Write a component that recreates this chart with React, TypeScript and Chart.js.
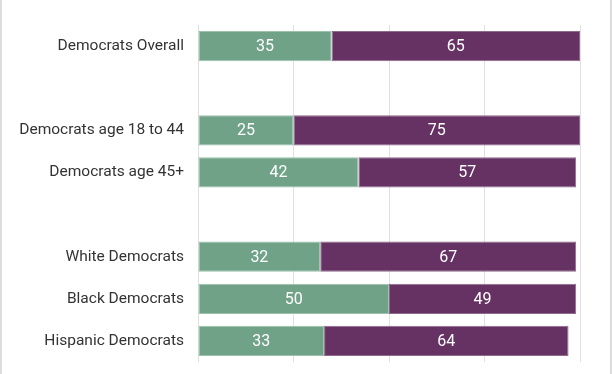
import React, { useEffect, useRef } from "react";
import { Chart, registerables } from "chart.js";

Chart.register(...registerables);

const categories = [
  "Democrats Overall",
  "",
  "Democrats age 18 to 44",
  "Democrats age 45+",
  "",
  "White Democrats",
  "Black Democrats",
  "Hispanic Democrats",
];
const greenValues = [35, null, 25, 42, null, 32, 50, 33];
const purpleValues = [65, null, 75, 57, null, 67, 49, 64];
const xTicks = [0, 25, 50, 75, 100];

const labelPlugin = {
  id: "barLabels",
  afterDatasetsDraw(chart: any) {
    const ctx = chart.ctx;
    ctx.save();
    ctx.fillStyle = "#ffffff";
    ctx.font = "16px Roboto";
    ctx.textAlign = "center";
    ctx.textBaseline = "middle";
    chart.data.datasets.forEach((ds: any, di: number) => {
      const meta = chart.getDatasetMeta(di);
      meta.data.forEach((bar: any, i: number) => {
        const v = ds.data[i];
        if (v == null) return;
        const x = (bar.x + bar.base) / 2;
        ctx.fillText(String(v), x, bar.y + 1);
      });
    });
    ctx.restore();
  },
};

export default function App() {
  const ref = useRef<HTMLCanvasElement>(null);
  useEffect(() => {
    document.body.style.margin = "0";
    const chart = new Chart(ref.current!, {
      type: "bar",
      data: {
        labels: categories,
        datasets: [
          {
            data: greenValues,
            backgroundColor: "#70a288",
            borderColor: "#9cc1ad",
            borderWidth: 1,
            borderSkipped: false,
            barPercentage: 0.72,
            categoryPercentage: 1,
          },
          {
            data: purpleValues,
            backgroundColor: "#663163",
            borderColor: "#8e6a8b",
            borderWidth: 1,
            borderSkipped: false,
            barPercentage: 0.72,
            categoryPercentage: 1,
          },
        ],
      },
      plugins: [labelPlugin],
      options: {
        indexAxis: "y",
        animation: false,
        responsive: false,
        maintainAspectRatio: false,
        layout: { padding: { top: 25, bottom: 12, right: 32, left: 0 } },
        plugins: { legend: { display: false }, tooltip: { enabled: false } },
        scales: {
          x: {
            stacked: true,
            min: 0,
            max: 100,
            afterBuildTicks: (s: any) => {
              s.ticks = xTicks.map((v) => ({ value: v }));
            },
            afterFit: (s: any) => {
              s.height = 0;
            },
            ticks: { display: false, padding: 0 },
            grid: { color: "#e0e0e0", drawTicks: false, lineWidth: 1 },
            border: { display: false },
          },
          y: {
            stacked: true,
            afterFit: (s: any) => {
              s.width = 198;
              s.paddingTop = 0;
              s.paddingBottom = 0;
            },
            grid: { display: false, drawTicks: false },
            border: { display: false },
            ticks: {
              padding: 14,
              color: "#333333",
              font: { family: "Roboto", size: 15.5 },
            },
          },
        },
      },
    });
    return () => chart.destroy();
  }, []);
  return (
    <div style={{ position: "absolute", left: 0, top: 0, width: 612, height: 374, background: "#fff" }}>
      <canvas ref={ref} width={612} height={374} style={{ display: "block" }} />
      <div style={{ position: "absolute", left: 0, top: 0, width: 2, height: 374, background: "#dcdcdc" }} />
      <div style={{ position: "absolute", left: 610, top: 0, width: 2, height: 374, background: "#dcdcdc" }} />
    </div>
  );
}
